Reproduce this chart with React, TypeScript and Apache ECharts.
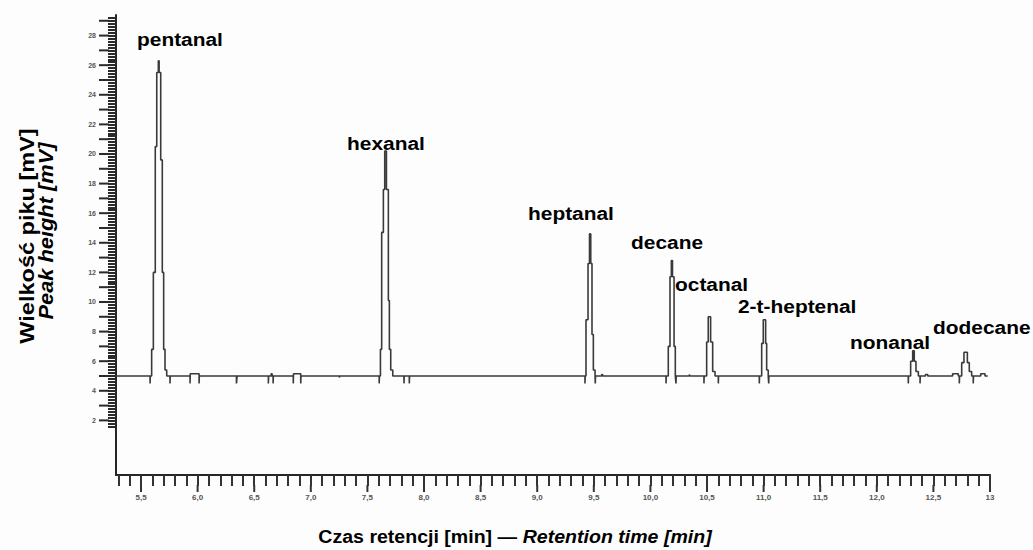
import React, { useEffect, useRef } from "react";
import * as echarts from "echarts";

// Axis ranges (retention time in min, peak height in mV)
const X_MIN = 5.279;
const X_MAX = 13.0;
const Y_MIN = -1.69;
const Y_MAX = 29.39;

// Tick labels
const xMajorTicks = [5.5, 6.0, 6.5, 7.0, 7.5, 8.0, 8.5, 9.0, 9.5, 10.0, 10.5, 11.0, 11.5, 12.0, 12.5, 13.0];
const yLabelTicks = [2, 4, 6, 8, 10, 12, 14, 16, 18, 20, 22, 24, 26, 28];

// Chromatogram trace: change points [time (min), signal (mV)], drawn as a step line
const traceStart: [number, number][] = [[5.279, 5.0]];
const pentanal: [number, number][] = [
  [5.580, 4.5], [5.582, 5.0],
  [5.594, 6.8], [5.609, 12.0], [5.626, 20.5], [5.639, 25.5], [5.653, 26.3], [5.660, 25.5],
  [5.674, 19.6], [5.688, 12.0], [5.700, 6.8], [5.712, 5.4], [5.727, 5.0],
  [5.756, 4.5], [5.758, 5.0],
];
const noiseBeforeHexanal: [number, number][] = [
  [5.933, 4.5], [5.935, 5.15], [6.013, 4.5], [6.015, 5.0],
  [6.343, 4.5], [6.349, 5.0],
  [6.625, 4.5], [6.627, 5.0], [6.650, 5.15], [6.658, 5.0], [6.667, 4.5], [6.669, 5.0],
  [6.845, 4.5], [6.847, 5.15], [6.911, 4.5], [6.913, 5.0],
  [7.252, 4.9], [7.256, 5.0],
];
const hexanal: [number, number][] = [
  [7.604, 4.5], [7.606, 5.0],
  [7.615, 6.8], [7.626, 14.7], [7.641, 17.6], [7.653, 20.2], [7.668, 17.6], [7.685, 10.1],
  [7.694, 6.8], [7.706, 5.4], [7.724, 5.0],
  [7.823, 4.5], [7.825, 5.0], [7.870, 4.5], [7.872, 5.0],
];
const heptanal: [number, number][] = [
  [9.422, 4.5], [9.424, 5.0],
  [9.431, 8.8], [9.449, 12.6], [9.462, 14.6], [9.473, 12.6], [9.484, 7.8], [9.496, 5.4], [9.511, 5.0],
  [9.513, 4.5], [9.515, 5.0], [9.570, 5.1], [9.578, 5.0],
];
const decane: [number, number][] = [
  [10.138, 4.5], [10.140, 5.0],
  [10.158, 7.0], [10.173, 11.7], [10.185, 12.8], [10.195, 11.7], [10.209, 7.0], [10.220, 5.0],
  [10.226, 4.5], [10.228, 5.0], [10.344, 5.1], [10.350, 5.0],
];
const octanal: [number, number][] = [
  [10.473, 4.5], [10.475, 5.0],
  [10.497, 7.3], [10.511, 9.0], [10.532, 7.3], [10.550, 5.3], [10.571, 5.0],
  [10.600, 4.5], [10.602, 5.0],
];
const heptenal: [number, number][] = [
  [10.962, 4.5], [10.964, 5.0],
  [10.983, 7.2], [10.997, 8.8], [11.018, 7.2], [11.027, 5.4], [11.041, 5.0],
  [11.045, 4.5], [11.047, 5.0],
];
const nonanal: [number, number][] = [
  [12.278, 4.5], [12.280, 5.0],
  [12.299, 6.0], [12.317, 6.7], [12.331, 6.0], [12.346, 5.3], [12.367, 5.0],
  [12.382, 4.5], [12.384, 5.0], [12.430, 5.1], [12.450, 5.0],
];
const dodecane: [number, number][] = [
  [12.670, 5.15], [12.720, 5.0], [12.729, 4.5], [12.731, 5.0],
  [12.750, 5.9], [12.770, 6.6], [12.800, 5.9], [12.817, 5.3], [12.838, 5.0],
  [12.852, 4.5], [12.854, 5.0], [12.918, 5.15], [12.956, 5.0], [12.980, 5.0],
];

// Peak names
const peakNames = ["pentanal", "hexanal", "heptanal", "decane", "octanal", "2-t-heptenal", "nonanal", "dodecane"];
const peakLabelPos: [number, number][] = [
  [137, 39], [347, 143], [528, 213], [631, 242], [675, 284], [738, 306], [850, 342], [933, 327],
];

const FONT = '"Liberation Sans", Arial, Helvetica, sans-serif';

function range(from: number, to: number, step: number): number[] {
  const out: number[] = [];
  const n = Math.round((to - from) / step);
  for (let i = 0; i <= n; i++) out.push(Math.round((from + i * step) * 1000) / 1000);
  return out;
}

export default function App() {
  const ref = useRef<HTMLDivElement>(null);

  useEffect(() => {
    if (!ref.current) return;
    const chart = echarts.init(ref.current, undefined, { renderer: "svg" });

    const trace = [
      ...traceStart, ...pentanal, ...noiseBeforeHexanal, ...hexanal, ...heptanal,
      ...decane, ...octanal, ...heptenal, ...nonanal, ...dodecane,
    ];

    const xAllTicks = range(5.3, 13.0, 0.1);
    const yRulerTicks = range(1.6, 29.4, 0.2);
    const yIntTicks = range(2, 29, 1);

    chart.setOption({
      animation: false,
      backgroundColor: "#fdfdfd",
      grid: { left: 116, right: 43, top: 15, bottom: 75 },
      xAxis: {
        type: "value",
        min: X_MIN,
        max: X_MAX,
        axisLine: { show: true, onZero: false, lineStyle: { color: "#262626", width: 2 } },
        axisTick: {
          show: true,
          customValues: xAllTicks,
          length: 11,
          lineStyle: { color: "#333", width: 2 },
        },
        axisLabel: {
          customValues: xMajorTicks,
          margin: 18,
          fontSize: 8,
          fontWeight: "bold",
          color: "#555",
          fontFamily: FONT,
          formatter: (v: number) => (Math.abs(v - 13) < 1e-6 ? "13" : v.toFixed(1).replace(".", ",")),
        },
        splitLine: { show: false },
      },
      yAxis: {
        type: "value",
        min: Y_MIN,
        max: Y_MAX,
        axisLine: { show: true, onZero: false, lineStyle: { color: "#262626", width: 2 } },
        axisTick: {
          show: true,
          customValues: yRulerTicks,
          length: 8,
          lineStyle: { color: "#2a2a2a", width: 2 },
        },
        axisLabel: {
          customValues: yLabelTicks,
          margin: 20,
          fontSize: 7,
          fontWeight: "bold",
          color: "#555",
          fontFamily: FONT,
        },
        splitLine: { show: false },
      },
      series: [
        {
          type: "line",
          data: trace,
          step: "end",
          symbol: "none",
          lineStyle: { color: "#3a3a3a", width: 1.6 },
        },
      ],
    });

    // longer ticks: whole millivolts on the y ruler, every 0.5 min on the time axis
    const yLongTicks = yIntTicks.map((v) => {
      const p = chart.convertToPixel({ xAxisIndex: 0, yAxisIndex: 0 }, [X_MIN, v]) as number[];
      return {
        type: "rect",
        z: 50,
        shape: { x: p[0] - 17, y: p[1] - 1, width: 10, height: 2 },
        style: { fill: "#2a2a2a" },
      };
    });
    const xLongTicks = xMajorTicks.map((v) => {
      const p = chart.convertToPixel({ xAxisIndex: 0, yAxisIndex: 0 }, [v, Y_MIN]) as number[];
      return {
        type: "rect",
        z: 50,
        shape: { x: p[0] - 1, y: p[1] + 10, width: 2, height: 7 },
        style: { fill: "#333" },
      };
    });

    const peakGraphics = peakNames.map((name, i) => ({
      type: "text",
      x: peakLabelPos[i][0],
      y: peakLabelPos[i][1],
      scaleX: 1.1,
      z: 100,
      style: {
        text: name,
        fill: "#000",
        fontSize: 19,
        fontWeight: "bold",
        fontFamily: FONT,
        align: "left",
        verticalAlign: "middle",
      },
    }));

    chart.setOption({
      graphic: [
        ...yLongTicks,
        ...xLongTicks,
        ...peakGraphics,
        {
          type: "text",
          x: 27,
          y: 236,
          rotation: Math.PI / 2,
          scaleX: 1.12,
          z: 100,
          style: {
            text: "Wielkość piku [mV]",
            fill: "#000",
            fontSize: 21,
            fontWeight: "bold",
            fontFamily: FONT,
            align: "center",
            verticalAlign: "middle",
          },
        },
        {
          type: "text",
          x: 46,
          y: 231,
          rotation: Math.PI / 2,
          scaleX: 1.04,
          z: 100,
          style: {
            text: "Peak height [mV]",
            fill: "#000",
            fontSize: 21,
            fontWeight: "bold",
            fontStyle: "italic",
            fontFamily: FONT,
            align: "center",
            verticalAlign: "middle",
          },
        },
        {
          type: "text",
          x: 515,
          y: 537,
          scaleX: 1.03,
          z: 100,
          style: {
            text: "{a|Czas retencji [min] — }{b|Retention time [min]}",
            align: "center",
            verticalAlign: "middle",
            rich: {
              a: { fontSize: 19, fontWeight: "bold", fontFamily: FONT, fill: "#000", color: "#000" },
              b: { fontSize: 19, fontWeight: "bold", fontStyle: "italic", fontFamily: FONT, fill: "#000", color: "#000" },
            },
          },
        },
      ],
    });

    return () => chart.dispose();
  }, []);

  return (
    <div
      ref={ref}
      style={{ position: "fixed", left: 0, top: 0, width: 1033, height: 550 }}
    />
  );
}
